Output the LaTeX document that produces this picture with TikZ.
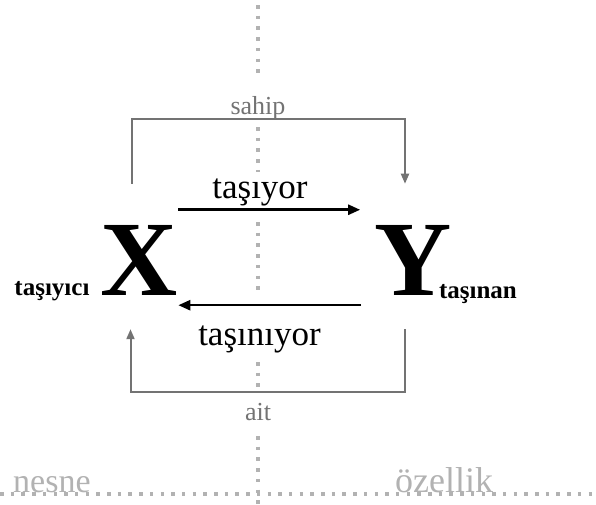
\documentclass[tikz,border=0pt]{standalone}
\usepackage{fontspec}
\setmainfont{Liberation Serif}
\usetikzlibrary{positioning, arrows.meta}

\begin{document}
\begin{tikzpicture}[
        x=1pt, y=-1pt,
        letter/.style = {font=\fontsize{107}{107}\selectfont\bfseries, inner sep=0pt},
        role/.style = {font=\fontsize{25}{25}\selectfont\bfseries, inner sep=0pt},
        verb/.style = {font=\fontsize{35}{35}\selectfont, inner sep=0pt},
        note/.style = {font=\fontsize{26}{26}\selectfont, text=black!55, inner sep=0pt},
        side/.style = {font=\fontsize{34}{34}\selectfont, text=black!30, inner sep=0pt},
        dots/.style = {black!30, line width=3.5pt, dash pattern=on 3.5pt off 7.2pt},
        arrow/.style = {-{Triangle[length=12pt, width=10pt]}, line width=2.5pt},
        link/.style = {-{Triangle[length=10pt, width=8pt]}, black!55, line width=2pt}
    ]
        \useasboundingbox (0,0) rectangle (596,504);
        % axes
        \foreach \a/\b in {5/77, 127/172, 222/290, 362/387, 436/504}
            \draw[dots] (258,\a) -- (258,\b);
        \draw[dots] (0,494) -- (596,494);
        \node[side, anchor=base west] (object) at (13,492) {nesne};
        \node[side, anchor=base west, font=\fontsize{36}{36}\selectfont] (property) at (395,492) {özellik};
        % letters
        \node[letter, anchor=base] (X) at (139.5,295) {X};
        \node[letter, anchor=base] (Y) at (413,295) {Y};
        \node[role, left=11pt of X.base west, anchor=base east] (carrier) {taşıyıcı};
        \node[role, anchor=base west] (carried) at ([xshift=-13pt, yshift=-3pt]Y.base east) {taşınan};
        % verbs
        \node[verb, anchor=base] (carries) at (260,198) {taşıyor};
        \node[verb, anchor=base] (carriedby) at (259.5,345) {taşınıyor};
        \draw[arrow] ([yshift=15pt]X.north east) -- ([xshift=-14pt, yshift=15pt]Y.north west);
        \draw[arrow] ([xshift=-13pt, yshift=-10pt]Y.south west) -- ([yshift=-10pt]X.south east);
        % brackets
        \coordinate (top) at (258,119);
        \coordinate (bottom) at (258,392);
        \node[note, anchor=base] (owner) at ([yshift=5pt]top) {sahip};
        \node[note, anchor=base] (belongs) at ([yshift=-28pt]bottom) {ait};
        \draw[link] ([xshift=-8pt, yshift=41pt]X.north) |- (top) -| ([xshift=-8pt, yshift=41pt]Y.north);
        \draw[link] ([xshift=-8pt, yshift=-34pt]Y.south) |- (bottom) -| ([xshift=-9pt, yshift=-34pt]X.south);
    \end{tikzpicture}
\end{document}
